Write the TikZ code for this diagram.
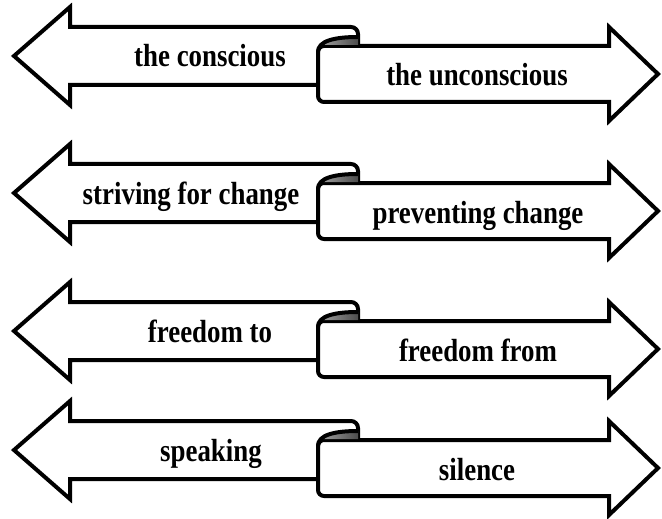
\documentclass[tikz,border=0pt]{standalone}
\usepackage{fontspec}
\setmainfont{Liberation Serif}
\usetikzlibrary{shadings}

% One pair of opposed ribbon arrows joined by a small scroll.
% #1 vertical position, #2 row id, #3 left text, #4 left text x,
% #5 right text, #6 right text x
\newcommand\ribbonpair[6]{%
  \begin{scope}[shift={(0,#1)}]
    % left-pointing ribbon
    \fill[white] (318,29) -- (70,29) -- (70,49) -- (14,0) -- (70,-49)
      -- (70,-29) -- (358,-29) -- (358,-10) -- (318,-10) -- cycle;
    \draw[outline] (318,29) -- (70,29) -- (70,49) -- (14,0) -- (70,-49)
      -- (70,-29) -- (351,-29) arc[start angle=-90, end angle=0, radius=7]
      -- (358,-10);
    % right-pointing ribbon
    \draw[outline, fill=white] (609,-10) -- (324,-10)
      arc[start angle=270, end angle=180, radius=6] -- (318,40)
      arc[start angle=180, end angle=90, radius=6] -- (609,46)
      -- (609,65) -- (658,18) -- (609,-29) -- cycle;
    % inside of the scroll
    \fill[left color=black!35, right color=black!70]
      (318,-5) .. controls (318,-15) and (334,-19) .. (358,-19)
      -- (358,-11) -- (322,-11) -- cycle;
    \draw[outline] (318,-4) .. controls (318,-15) and (334,-19) .. (358,-19);
    % labels
    \node[label] (L#2) at (#4,11) {\scalebox{0.84}[1]{#3}};
    \node[label] (R#2) at (#6,30) {\scalebox{0.84}[1]{#5}};
  \end{scope}}

\begin{document}
\begin{tikzpicture}[x=0.5pt, y=-0.5pt,
  outline/.style={draw=black, line width=2pt},
  label/.style={anchor=base, inner sep=0pt,
    font=\bfseries\fontsize{16}{18}\selectfont}]
  \useasboundingbox (0,0) rectangle (662,518);
  \ribbonpair{56}{1}{the conscious}{210}{the unconscious}{477}
  \ribbonpair{193}{2}{striving for change}{191}{preventing change}{478}
  \ribbonpair{331}{3}{freedom to}{210}{freedom from}{478}
  \ribbonpair{450}{4}{speaking}{211}{silence}{477}
\end{tikzpicture}
\end{document}
